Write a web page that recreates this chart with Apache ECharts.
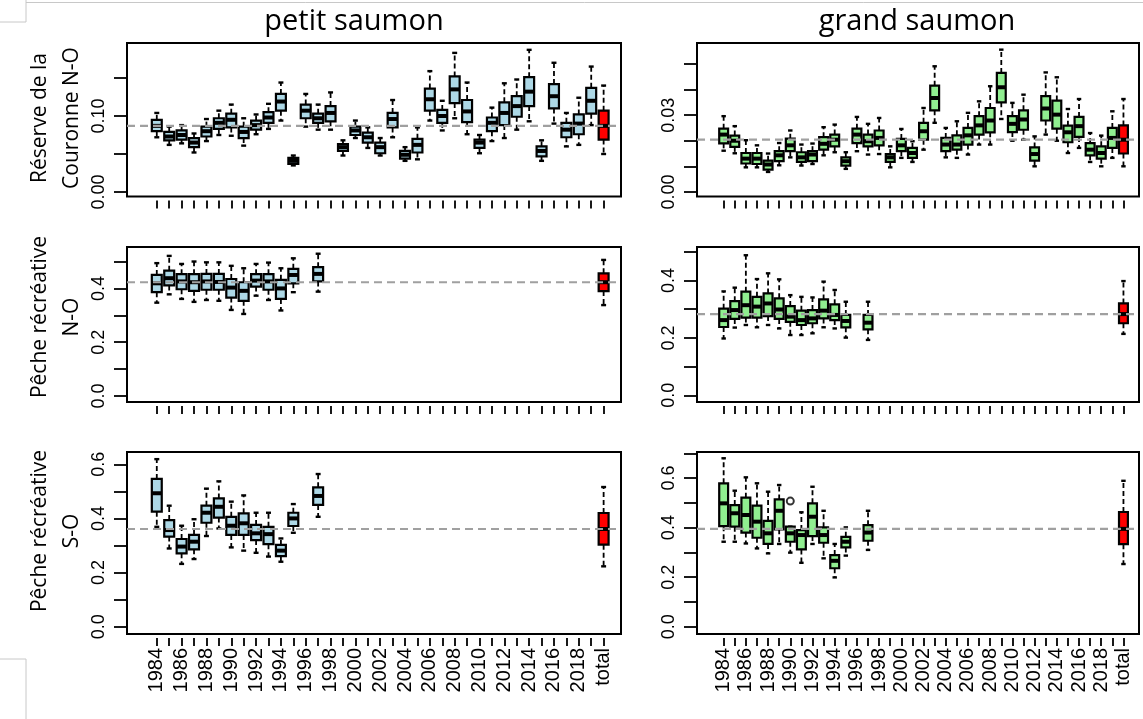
<!DOCTYPE html>
<html>
<head>
<meta charset="utf-8">
<script src="https://cdn.jsdelivr.net/npm/echarts@6/dist/echarts.min.js"></script>
<style>
  html, body { margin: 0; padding: 0; background: #fff; }
  #chart { width: 1143px; height: 719px; }
</style>
</head>
<body>
<div id="chart"></div>
<script>
// Year categories plus the pooled "total" box
const categories = ['1984','1985','1986','1987','1988','1989','1990','1991','1992','1993',
  '1994','1995','1996','1997','1998','1999','2000','2001','2002','2003','2004','2005',
  '2006','2007','2008','2009','2010','2011','2012','2013','2014','2015','2016','2017',
  '2018','2019','total'];

// Box statistics per category: [lower whisker, Q1, median, Q3, upper whisker]
const petitCouronne = [
  [0.072,0.080,0.087,0.095,0.104],[0.062,0.068,0.073,0.079,0.086],[0.064,0.069,0.075,0.081,0.088],
  [0.052,0.059,0.065,0.071,0.077],[0.067,0.073,0.080,0.086,0.096],[0.075,0.083,0.091,0.097,0.107],
  [0.074,0.085,0.095,0.103,0.115],[0.061,0.071,0.079,0.086,0.097],[0.076,0.082,0.088,0.094,0.102],
  [0.083,0.091,0.098,0.105,0.116],[0.094,0.107,0.119,0.129,0.144],[0.035,0.037,0.041,0.045,0.048],
  [0.086,0.097,0.107,0.115,0.129],[0.082,0.091,0.097,0.103,0.115],[0.082,0.093,0.104,0.113,0.131],
  [0.048,0.054,0.059,0.063,0.068],[0.071,0.075,0.081,0.086,0.094],[0.058,0.065,0.072,0.078,0.085],
  [0.048,0.051,0.059,0.065,0.071],[0.072,0.085,0.096,0.104,0.121],[0.041,0.044,0.049,0.054,0.059],
  [0.043,0.052,0.062,0.070,0.085],[0.094,0.107,0.122,0.136,0.159],[0.081,0.091,0.100,0.108,0.120],
  [0.097,0.117,0.135,0.152,0.183],[0.076,0.092,0.106,0.121,0.144],[0.051,0.058,0.065,0.069,0.075],
  [0.067,0.080,0.091,0.098,0.111],[0.071,0.088,0.104,0.118,0.143],[0.082,0.099,0.113,0.126,0.148],
  [0.093,0.113,0.132,0.151,0.187],[0.041,0.047,0.054,0.060,0.068],[0.090,0.110,0.126,0.142,0.170],
  [0.060,0.072,0.082,0.091,0.104],[0.062,0.076,0.090,0.102,0.124],[0.088,0.103,0.120,0.137,0.165],
  [0.050,0.069,0.087,0.107,0.140]
];
const grandCouronne = [
  [0.0161,0.0190,0.0224,0.0247,0.0296],[0.0151,0.0176,0.0200,0.0220,0.0257],[0.0096,0.0111,0.0130,0.0152,0.0202],
  [0.0096,0.0109,0.0130,0.0152,0.0182],[0.0078,0.0087,0.0107,0.0122,0.0150],[0.0104,0.0120,0.0143,0.0159,0.0191],
  [0.0135,0.0159,0.0182,0.0208,0.0240],[0.0103,0.0117,0.0135,0.0155,0.0185],[0.0109,0.0120,0.0146,0.0159,0.0189],
  [0.0143,0.0165,0.0188,0.0214,0.0253],[0.0155,0.0178,0.0204,0.0224,0.0263],[0.0090,0.0103,0.0120,0.0135,0.0155],
  [0.0159,0.0191,0.0224,0.0247,0.0293],[0.0146,0.0178,0.0198,0.0224,0.0266],[0.0148,0.0182,0.0211,0.0240,0.0289],
  [0.0096,0.0117,0.0135,0.0148,0.0178],[0.0133,0.0159,0.0182,0.0207,0.0246],[0.0117,0.0133,0.0152,0.0172,0.0198],
  [0.0165,0.0204,0.0237,0.0270,0.0328],[0.0270,0.0319,0.0367,0.0415,0.0491],[0.0135,0.0159,0.0185,0.0211,0.0250],
  [0.0133,0.0165,0.0185,0.0221,0.0276],[0.0146,0.0185,0.0221,0.0250,0.0309],[0.0185,0.0224,0.0260,0.0296,0.0354],
  [0.0185,0.0233,0.0279,0.0328,0.0413],[0.0285,0.0350,0.0409,0.0465,0.0556],[0.0200,0.0234,0.0266,0.0296,0.0348],
  [0.0204,0.0243,0.0283,0.0319,0.0380],[0.0100,0.0122,0.0148,0.0174,0.0217],[0.0224,0.0279,0.0326,0.0374,0.0467],
  [0.0200,0.0247,0.0302,0.0357,0.0448],[0.0152,0.0194,0.0233,0.0259,0.0324],[0.0172,0.0215,0.0257,0.0293,0.0363],
  [0.0117,0.0143,0.0165,0.0191,0.0230],[0.0100,0.0130,0.0152,0.0178,0.0220],[0.0133,0.0172,0.0211,0.0250,0.0315],
  [0.0100,0.0150,0.0204,0.0260,0.0363]
];
const petitRecreNO = [
  [0.347,0.386,0.419,0.450,0.494],[0.378,0.411,0.438,0.466,0.521],[0.361,0.397,0.426,0.453,0.491],
  [0.350,0.391,0.423,0.453,0.500],[0.357,0.395,0.426,0.454,0.497],[0.354,0.395,0.424,0.454,0.497],
  [0.320,0.366,0.403,0.435,0.484],[0.305,0.354,0.391,0.423,0.475],[0.373,0.407,0.429,0.453,0.491],
  [0.357,0.395,0.426,0.453,0.496],[0.318,0.361,0.400,0.432,0.475],[0.386,0.419,0.450,0.473,0.512],
  null,[0.388,0.426,0.454,0.479,0.529],
  null,null,null,null,null,null,null,null,null,null,null,null,null,null,null,null,null,null,null,null,null,null,
  [0.338,0.390,0.423,0.456,0.506]
];
const grandRecreNO = [
  [0.198,0.238,0.262,0.302,0.362],[0.236,0.266,0.297,0.328,0.375],[0.245,0.271,0.314,0.361,0.488],
  [0.237,0.271,0.309,0.343,0.405],[0.245,0.276,0.320,0.355,0.425],[0.233,0.266,0.299,0.338,0.404],
  [0.210,0.256,0.274,0.311,0.349],[0.210,0.245,0.262,0.295,0.343],[0.216,0.251,0.268,0.297,0.341],
  [0.237,0.268,0.295,0.334,0.396],[0.233,0.262,0.280,0.317,0.367],[0.201,0.237,0.259,0.280,0.326],
  null,[0.193,0.230,0.253,0.280,0.326],
  null,null,null,null,null,null,null,null,null,null,null,null,null,null,null,null,null,null,null,null,null,null,
  [0.214,0.251,0.283,0.320,0.398]
];
const petitRecreSO = [
  [0.369,0.425,0.493,0.546,0.619],[0.289,0.333,0.357,0.394,0.447],[0.232,0.271,0.296,0.324,0.373],
  [0.250,0.286,0.314,0.339,0.397],[0.335,0.384,0.421,0.447,0.510],[0.363,0.403,0.443,0.474,0.537],
  [0.293,0.339,0.373,0.406,0.462],[0.281,0.339,0.382,0.419,0.485],[0.273,0.320,0.345,0.376,0.421],
  [0.259,0.305,0.342,0.369,0.421],[0.240,0.261,0.281,0.302,0.326],[0.347,0.372,0.400,0.421,0.453],
  null,[0.406,0.450,0.483,0.515,0.564],
  null,null,null,null,null,null,null,null,null,null,null,null,null,null,null,null,null,null,null,null,null,null,
  [0.223,0.303,0.361,0.420,0.516]
];
const grandRecreSO = [
  [0.343,0.406,0.498,0.579,0.680],[0.343,0.404,0.458,0.491,0.549],[0.336,0.380,0.451,0.521,0.603],
  [0.316,0.359,0.424,0.489,0.579],[0.296,0.334,0.377,0.427,0.545],[0.334,0.393,0.468,0.514,0.572],
  [0.299,0.343,0.377,0.404,0.404],[0.258,0.312,0.370,0.390,0.462],[0.334,0.366,0.444,0.498,0.565],
  [0.276,0.339,0.370,0.401,0.468],[0.199,0.236,0.266,0.289,0.334],[0.287,0.320,0.343,0.363,0.401],
  null,[0.310,0.347,0.380,0.410,0.468],
  null,null,null,null,null,null,null,null,null,null,null,null,null,null,null,null,null,null,null,null,null,null,
  [0.253,0.333,0.395,0.463,0.589]
];
// Outlying points: [category, value]
const grandRecreSOOutliers = [['1990', 0.507]];

// Y tick positions and the ticks that carry a label
const yTicksCouronnePetit = [0, 0.05, 0.10, 0.15];
const yLabelsCouronnePetit = [0, 0.10];
const yTicksCouronneGrand = [0, 0.01, 0.02, 0.03, 0.04, 0.05];
const yLabelsCouronneGrand = [0, 0.03];
const yTicksRecre5 = [0, 0.1, 0.2, 0.3, 0.4, 0.5];
const yTicksRecre6 = [0, 0.1, 0.2, 0.3, 0.4, 0.5, 0.6];
const yTicksRecre7 = [0, 0.1, 0.2, 0.3, 0.4, 0.5, 0.6, 0.7];
const yLabelsRecre = [0, 0.2, 0.4];
const yLabelsRecreSO = [0, 0.2, 0.4, 0.6];

const rowTitles = [['Réserve de la', 'Couronne N-O'], ['Pêche récréative', 'N-O'], ['Pêche récréative', 'S-O']];
const colTitles = ['petit saumon', 'grand saumon'];

const BLUE = '#ADD8E6', GREEN = '#90EE90', RED = '#FF0000';
const TICK_FONT = 'Liberation Sans';
const TITLE_FONT = 'Open Sans';

// Panel layout: two columns, three rows
const cols = [{ left: 127, width: 494, titleX: 354 }, { left: 697, width: 442, titleX: 917 }];
const rows = [{ top: 43, height: 153.5, labelY: 118 }, { top: 247, height: 155, labelY: 317 }, { top: 452, height: 182, labelY: 531 }];
const X_MIN = -2.4, X_MAX = 37.4;

const panels = [
  { row: 0, col: 0, stats: petitCouronne, fill: BLUE, yMin: -0.0059, yMax: 0.196, ticks: yTicksCouronnePetit, labels: yLabelsCouronnePetit, dec: 2 },
  { row: 0, col: 1, stats: grandCouronne, fill: GREEN, yMin: -0.0018, yMax: 0.0582, ticks: yTicksCouronneGrand, labels: yLabelsCouronneGrand, dec: 2 },
  { row: 1, col: 0, stats: petitRecreNO, fill: BLUE, yMin: -0.0223, yMax: 0.554, ticks: yTicksRecre5, labels: yLabelsRecre, dec: 1 },
  { row: 1, col: 1, stats: grandRecreNO, fill: GREEN, yMin: -0.0233, yMax: 0.5167, ticks: yTicksRecre5, labels: yLabelsRecre, dec: 1 },
  { row: 2, col: 0, stats: petitRecreSO, fill: BLUE, yMin: -0.027, yMax: 0.6454, ticks: yTicksRecre6, labels: yLabelsRecreSO, dec: 1 },
  { row: 2, col: 1, stats: grandRecreSO, fill: GREEN, yMin: -0.0295, yMax: 0.7053, ticks: yTicksRecre7, labels: yLabelsRecreSO, dec: 1, outliers: grandRecreSOOutliers }
];

const catIndex = categories.map((c, i) => i);
const labelIndex = catIndex.filter(i => i % 2 === 0);

function boxRenderer(fillColor) {
  return function (params, api) {
    const i = api.value(0);
    const lo = api.value(1), q1 = api.value(2), md = api.value(3), q3 = api.value(4), hi = api.value(5);
    const fill = api.value(6) === 1 ? RED : fillColor;
    const cx = api.coord([i, md])[0];
    const y = v => api.coord([i, v])[1];
    const hw = api.size([1, 0])[0] * 0.4;
    const sw = hw * 0.5;
    const dash = { stroke: '#000', lineWidth: 1.8, lineDash: [5, 3] };
    const solid = { stroke: '#000', lineWidth: 2.4 };
    return {
      type: 'group',
      children: [
        { type: 'line', shape: { x1: cx, y1: y(q3), x2: cx, y2: y(hi) }, style: dash },
        { type: 'line', shape: { x1: cx, y1: y(q1), x2: cx, y2: y(lo) }, style: dash },
        { type: 'line', shape: { x1: cx - sw, y1: y(hi), x2: cx + sw, y2: y(hi) }, style: solid },
        { type: 'line', shape: { x1: cx - sw, y1: y(lo), x2: cx + sw, y2: y(lo) }, style: solid },
        { type: 'rect', shape: { x: cx - hw, y: y(q3), width: 2 * hw, height: y(q1) - y(q3) },
          style: { fill: fill, stroke: '#000', lineWidth: 2.2 } },
        { type: 'line', shape: { x1: cx - hw, y1: y(md), x2: cx + hw, y2: y(md) }, style: { stroke: '#000', lineWidth: 4 } }
      ]
    };
  };
}

const grid = [], xAxis = [], yAxis = [], series = [];
panels.forEach((p, k) => {
  const c = cols[p.col], r = rows[p.row];
  grid.push({ left: c.left, top: r.top, width: c.width, height: r.height,
    show: true, borderColor: '#000', borderWidth: 2, backgroundColor: 'transparent' });
  const isBottom = p.row === 2;
  xAxis.push({
    gridIndex: k, type: 'value', min: X_MIN, max: X_MAX, offset: 4,
    axisLine: { show: false, onZero: false }, splitLine: { show: false },
    axisTick: { show: true, customValues: catIndex, length: 8, lineStyle: { color: '#000', width: 1.8 } },
    axisLabel: { show: isBottom, customValues: labelIndex, rotate: 90, margin: 10,
      fontFamily: TICK_FONT, fontSize: 20, color: '#000', formatter: v => categories[Math.round(v)] }
  });
  yAxis.push({
    gridIndex: k, type: 'value', min: p.yMin, max: p.yMax, offset: 1,
    axisLine: { show: false, onZero: false }, splitLine: { show: false },
    axisTick: { show: true, customValues: p.ticks, length: 12, lineStyle: { color: '#000', width: 1.8 } },
    axisLabel: { show: true, customValues: p.labels, rotate: 90, margin: 18,
      fontFamily: TICK_FONT, fontSize: 18, color: '#000', formatter: v => v.toFixed(p.dec) }
  });
  const items = [];
  p.stats.forEach((s, i) => { if (s) items.push([i, s[0], s[1], s[2], s[3], s[4], categories[i] === 'total' ? 1 : 0]); });
  series.push({
    type: 'custom', xAxisIndex: k, yAxisIndex: k, silent: true,
    renderItem: boxRenderer(p.fill),
    encode: { x: 0, y: [1, 2, 3, 4, 5] },
    data: items, z: 2
  });
  // Dashed reference line at the median of the pooled "total" box
  const refMedian = p.stats[categories.indexOf('total')][2];
  series.push({
    type: 'line', xAxisIndex: k, yAxisIndex: k, silent: true, symbol: 'none',
    data: [[X_MIN, refMedian], [X_MAX, refMedian]],
    lineStyle: { color: '#a0a0a0', width: 2.2, type: [8, 5] }, z: 3
  });
  if (p.outliers) {
    series.push({
      type: 'scatter', xAxisIndex: k, yAxisIndex: k, silent: true,
      symbol: 'emptyCircle', symbolSize: 7,
      itemStyle: { color: '#000', borderColor: '#000', borderWidth: 1.5 },
      data: p.outliers.map(o => [categories.indexOf(o[0]), o[1]]), z: 4
    });
  }
});

const graphic = [];
colTitles.forEach((t, j) => {
  graphic.push({ type: 'text', x: cols[j].titleX, y: 22,
    style: { text: t, font: '29px "' + TITLE_FONT + '"', fill: '#000', textAlign: 'center', textVerticalAlign: 'middle' } });
});
rowTitles.forEach((lines, r) => {
  lines.forEach((line, n) => {
    graphic.push({ type: 'text', x: 40 + n * 32, y: rows[r].labelY, rotation: Math.PI / 2,
      style: { text: line, font: '21px "' + TITLE_FONT + '"', fill: '#000', textAlign: 'center', textVerticalAlign: 'middle' } });
  });
});
// Thin page-edge rules
const edge = { stroke: '#c8c8c8', lineWidth: 1 };
graphic.push({ type: 'polyline', shape: { points: [[0, 22], [26, 22], [26, 0]] }, style: Object.assign({ fill: null }, edge) });
graphic.push({ type: 'line', shape: { x1: 26, y1: 2.5, x2: 1143, y2: 2.5 }, style: edge });
graphic.push({ type: 'polyline', shape: { points: [[0, 659], [26, 659], [26, 719]] }, style: Object.assign({ fill: null }, edge) });

const chart = echarts.init(document.getElementById('chart'), null, { renderer: 'canvas' });
chart.setOption({
  animation: false,
  backgroundColor: '#fff',
  grid, xAxis, yAxis, series, graphic
});
</script>
</body>
</html>
